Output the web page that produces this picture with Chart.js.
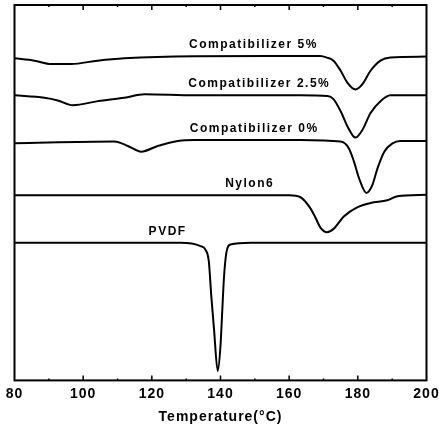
<!DOCTYPE html>
<html>
<head>
<meta charset="utf-8">
<script src="https://cdn.jsdelivr.net/npm/chart.js@4.4.0/dist/chart.umd.min.js"></script>
<style>
  html, body { margin: 0; padding: 0; background: #fff; }
  #wrap { width: 439px; height: 426px; }
</style>
</head>
<body>
<div id="wrap"><canvas id="dsc"></canvas></div>
<script>
// DSC curves, heat flow in arbitrary units (endo down, curves stacked)
var tCompat5 = [80, 85.8, 90.7, 96.5, 104.2, 112, 132.4, 160, 169, 171, 172.9, 175, 177, 179.3, 181.4, 183.7, 186.6, 189.5, 200];
var hfCompat5 = [318.3, 316, 312.7, 312.7, 316, 318.3, 320.3, 320.5, 320.5, 319, 316, 306, 294, 287.5, 293, 306, 316, 319, 320];

var tCompat25 = [80, 88.7, 92.6, 97, 104.3, 112, 117.9, 132.4, 163.3, 171.2, 172.9, 175, 177, 179.3, 181.4, 183.7, 186.6, 189.5, 200];
var hfCompat25 = [281.7, 279.3, 276.7, 272, 276, 279.3, 282.7, 281.7, 281.7, 281, 278, 266, 251, 240, 248, 264.3, 276, 281.7, 281.7];

var tCompat0 = [80, 109.1, 113, 116.9, 121.7, 127.6, 132.4, 163.3, 175, 177.4, 178.9, 180.4, 182.5, 184.2, 185.7, 187.7, 190.1, 192.4, 200];
var hfCompat0 = [234.3, 236, 231.7, 226, 231.7, 236.7, 237.7, 237.7, 236, 229.3, 216, 199.3, 185.3, 192.7, 209.3, 226, 234.3, 236.7, 236.7];

var tNylon = [80, 160, 163.3, 166, 167.5, 169.1, 171, 173, 175.9, 179.8, 183.7, 188.6, 191.5, 200];
var hfNylon = [183, 183, 181, 171, 162, 151, 146.5, 150, 162, 171, 175.3, 178, 182, 183.5];

var tPVDF = [80, 128.4, 134.2, 135.6, 136.6, 137.3, 138.1, 139.2, 140, 140.5, 141, 141.7, 142.9, 148.8, 200];
var hfPVDF = [136, 136, 132.7, 129.3, 117.7, 84.3, 51, 9.3, 34.3, 68, 101, 126, 134.3, 136, 136];

var curveNames = ['Compatibilizer 5%', 'Compatibilizer 2.5%', 'Compatibilizer 0%', 'Nylon6', 'PVDF'];
// where each curve's name sits: [temperature, heat flow]
var labelAt = [[149.6, 332], [151.3, 293], [149.8, 249], [148.5, 194], [124.6, 147]];
var xTicks = [80, 100, 120, 140, 160, 180, 200];

function pts(t, v) {
  return t.map(function (x, i) { return { x: x, y: v[i] }; });
}

function curve(name, t, v) {
  return {
    label: name,
    data: pts(t, v),
    borderColor: '#000',
    borderWidth: 2,
    pointRadius: 0,
    fill: false,
    cubicInterpolationMode: 'monotone'
  };
}

var framePlugin = {
  id: 'frame',
  beforeDraw: function (chart) {
    chart.ctx.letterSpacing = '1px';
  },
  afterDatasetsDraw: function (chart) {
    var ctx = chart.ctx, a = chart.chartArea, xs = chart.scales.x, ys = chart.scales.y;
    ctx.save();
    ctx.strokeStyle = '#000';
    ctx.lineWidth = 2;
    ctx.strokeRect(a.left, a.top, a.right - a.left, a.bottom - a.top);
    ctx.lineWidth = 1.5;
    for (var t = 90; t < 200; t += 10) {
      var px = xs.getPixelForValue(t);
      var len = (t % 20 === 0) ? 5 : 2;
      ctx.beginPath();
      ctx.moveTo(px, a.bottom); ctx.lineTo(px, a.bottom - len);
      ctx.moveTo(px, a.top); ctx.lineTo(px, a.top + len);
      ctx.stroke();
    }
    ctx.fillStyle = '#000';
    ctx.font = 'bold 12px "Liberation Sans", Arial, sans-serif';
    ctx.letterSpacing = '1.5px';
    ctx.textAlign = 'center';
    ctx.textBaseline = 'middle';
    curveNames.forEach(function (n, i) {
      ctx.fillText(n, xs.getPixelForValue(labelAt[i][0]), ys.getPixelForValue(labelAt[i][1]));
    });
    ctx.restore();
  }
};

new Chart(document.getElementById('dsc'), {
  type: 'line',
  data: {
    datasets: [
      curve(curveNames[0], tCompat5, hfCompat5),
      curve(curveNames[1], tCompat25, hfCompat25),
      curve(curveNames[2], tCompat0, hfCompat0),
      curve(curveNames[3], tNylon, hfNylon),
      curve(curveNames[4], tPVDF, hfPVDF)
    ]
  },
  options: {
    responsive: true,
    maintainAspectRatio: false,
    animation: false,
    layout: { padding: { left: 14.5, right: 12.5, top: 5, bottom: 0 } },
    plugins: { legend: { display: false }, tooltip: { enabled: false } },
    scales: {
      x: {
        type: 'linear',
        min: 80,
        max: 200,
        afterBuildTicks: function (s) { s.ticks = xTicks.map(function (v) { return { value: v }; }); },
        afterFit: function (s) { s.paddingLeft = 0; s.paddingRight = 0; },
        grid: { display: false, drawTicks: false },
        border: { display: false },
        ticks: {
          color: '#000',
          padding: 5,
          maxRotation: 0,
          font: { family: '"Liberation Sans", Arial, sans-serif', size: 14, weight: 'bold' }
        },
        title: {
          display: true,
          text: 'Temperature(°C)',
          color: '#000',
          padding: { top: 2, bottom: 0 },
          font: { family: '"Liberation Sans", Arial, sans-serif', size: 14, weight: 'bold' }
        }
      },
      y: {
        display: false,
        min: 0,
        max: 371
      }
    }
  },
  plugins: [framePlugin]
});
</script>
</body>
</html>
